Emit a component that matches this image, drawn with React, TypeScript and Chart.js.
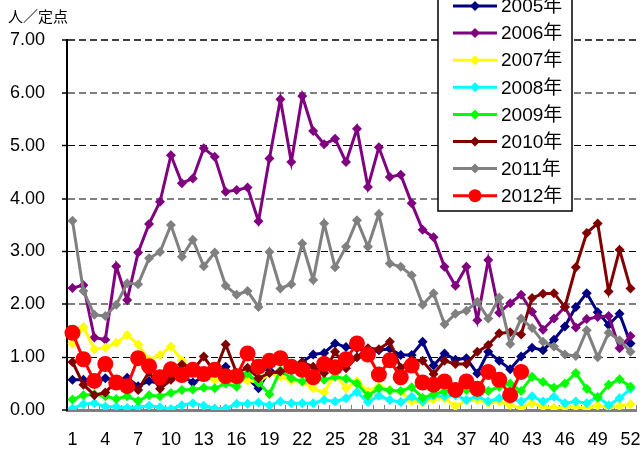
import React, { useEffect, useRef } from 'react';
import { Chart, registerables } from 'chart.js';

Chart.register(...registerables);

const weeks = ['1','2','3','4','5','6','7','8','9','10','11','12','13','14','15','16','17','18','19','20','21','22','23','24','25','26','27','28','29','30','31','32','33','34','35','36','37','38','39','40','41','42','43','44','45','46','47','48','49','50','51','52'];

const yTicks = [0, 1, 2, 3, 4, 5, 6, 7];
const unitLabel = '人／定点';

const s2005 = [0.57,0.57,0.50,0.60,0.55,0.61,0.45,0.55,0.50,0.60,0.65,0.52,0.62,0.70,0.82,0.55,0.60,0.41,0.75,0.68,0.80,0.91,1.05,1.08,1.26,1.19,1.17,1.08,1.13,1.16,1.04,1.04,1.29,0.84,1.07,0.95,0.98,0.69,1.10,0.93,0.77,1.01,1.18,1.13,1.33,1.58,1.95,2.21,1.85,1.61,1.82,1.26];
const s2006 = [2.31,2.36,1.37,1.33,2.72,2.08,2.98,3.52,3.94,4.82,4.29,4.38,4.95,4.79,4.13,4.16,4.21,3.57,4.76,5.88,4.69,5.94,5.28,5.03,5.13,4.69,5.32,4.22,4.97,4.41,4.45,3.91,3.41,3.27,2.71,2.35,2.71,1.70,2.84,1.84,2.02,2.18,1.86,1.52,1.73,1.95,1.56,1.72,1.76,1.78,1.17,1.40];
const s2007 = [1.26,1.57,1.15,1.18,1.27,1.42,1.24,0.95,1.04,1.20,0.94,0.75,0.62,0.57,0.53,0.55,0.56,0.52,0.69,0.63,0.56,0.54,0.41,0.33,0.69,0.41,0.55,0.35,0.45,0.38,0.35,0.17,0.14,0.20,0.22,0.07,0.18,0.19,0.13,0.16,0.09,0.04,0.13,0.06,0.04,0.05,0.06,0.03,0.08,0.05,0.07,0.11];
const s2008 = [0.03,0.11,0.13,0.06,0.06,0.04,0.05,0.08,0.05,0.02,0.09,0.13,0.08,0.03,0.03,0.12,0.12,0.14,0.09,0.16,0.13,0.13,0.13,0.19,0.16,0.22,0.34,0.15,0.27,0.19,0.15,0.25,0.16,0.27,0.26,0.28,0.19,0.26,0.16,0.22,0.22,0.16,0.26,0.16,0.25,0.13,0.16,0.13,0.25,0.09,0.22,0.40];
const s2009 = [0.20,0.28,0.30,0.26,0.21,0.26,0.17,0.28,0.26,0.32,0.38,0.39,0.42,0.41,0.50,0.44,0.69,0.52,0.30,0.75,0.60,0.54,0.60,0.57,0.63,0.59,0.50,0.27,0.41,0.37,0.36,0.43,0.23,0.30,0.35,0.40,0.38,0.32,0.36,0.44,0.50,0.36,0.63,0.53,0.42,0.50,0.70,0.40,0.23,0.48,0.58,0.44];
const s2010 = [0.91,0.48,0.28,0.33,0.55,0.45,0.38,0.72,0.40,0.57,0.86,0.75,1.01,0.71,1.24,0.70,0.80,0.60,0.70,0.73,0.78,0.90,0.82,0.70,1.10,0.79,1.00,1.17,1.15,1.29,0.80,0.95,0.93,0.68,0.93,0.87,0.87,1.10,1.23,1.45,1.47,1.43,2.12,2.20,2.21,1.95,2.70,3.35,3.53,2.24,3.03,2.30];
const s2011 = [3.58,2.25,1.80,1.78,1.99,2.40,2.38,2.87,2.99,3.50,2.90,3.22,2.72,2.98,2.35,2.18,2.25,1.95,2.99,2.30,2.38,3.15,2.46,3.53,2.70,3.09,3.59,3.09,3.71,2.77,2.71,2.55,1.99,2.21,1.62,1.82,1.88,2.05,1.73,2.13,1.25,1.73,1.55,1.29,1.20,1.05,1.02,1.51,1.00,1.46,1.32,1.10];
const s2012 = [1.46,0.96,0.55,0.87,0.52,0.45,0.98,0.83,0.62,0.77,0.66,0.76,0.68,0.76,0.64,0.64,1.07,0.82,0.93,0.98,0.82,0.76,0.62,0.87,0.81,0.96,1.26,1.05,0.67,0.94,0.62,0.84,0.52,0.48,0.54,0.38,0.54,0.40,0.72,0.57,0.28,0.72];

const seriesNames = ['2005年','2006年','2007年','2008年','2009年','2010年','2011年','2012年'];
const seriesData = [s2005, s2006, s2007, s2008, s2009, s2010, s2011, s2012];
const seriesColors = ['#000080','#800080','#FFFF00','#00FFFF','#00FF00','#800000','#808080','#FF0000'];

const FONT = '"Liberation Sans", "Noto Sans CJK JP", sans-serif';

const legendPlugin = {
  id: 'boxLegend',
  afterDraw(chart: any) {
    const ctx = chart.ctx;
    ctx.save();
    const L = 438, R = 572, T = -20, B = 211;
    ctx.fillStyle = '#ffffff';
    ctx.fillRect(L, T, R - L, B - T);
    ctx.strokeStyle = '#000000';
    ctx.lineWidth = 1.5;
    ctx.strokeRect(L, T, R - L, B - T);
    chart.data.datasets.forEach((ds: any, i: number) => {
      const y = 6 + i * 27.1;
      ctx.strokeStyle = ds.borderColor;
      ctx.lineWidth = 3;
      ctx.beginPath();
      ctx.moveTo(453, y);
      ctx.lineTo(497, y);
      ctx.stroke();
      ctx.fillStyle = ds.borderColor;
      ctx.beginPath();
      if (ds.pointStyle === 'circle') {
        ctx.arc(475, y, 6.5, 0, Math.PI * 2);
      } else {
        const r = 5;
        ctx.moveTo(475, y - r);
        ctx.lineTo(475 + r, y);
        ctx.lineTo(475, y + r);
        ctx.lineTo(475 - r, y);
        ctx.closePath();
      }
      ctx.fill();
      ctx.fillStyle = '#000000';
      ctx.font = '19px ' + FONT;
      ctx.textBaseline = 'middle';
      ctx.textAlign = 'left';
      ctx.fillText(ds.label, 501, y + 1);
    });
    ctx.restore();
  },
};

const unitPlugin = {
  id: 'unitLabel',
  afterDraw(chart: any) {
    const ctx = chart.ctx;
    ctx.save();
    ctx.fillStyle = '#000000';
    ctx.font = '15px "Noto Sans CJK JP", sans-serif';
    ctx.textBaseline = 'middle';
    ctx.textAlign = 'left';
    ctx.fillText(unitLabel, 8, 16);
    ctx.restore();
  },
};

export default function App() {
  const ref = useRef<HTMLCanvasElement>(null);
  useEffect(() => {
    if (!ref.current) return;
    const datasets = seriesNames.map((name, i) => {
      const isCircle = i === 7;
      return {
        label: name,
        data: seriesData[i],
        borderColor: seriesColors[i],
        backgroundColor: seriesColors[i],
        pointBackgroundColor: seriesColors[i],
        pointBorderColor: seriesColors[i],
        borderWidth: 3,
        pointStyle: isCircle ? 'circle' : 'rectRot',
        pointRadius: isCircle ? 8 : 5,
        pointBorderWidth: 0,
        tension: 0,
        order: 7 - i,
      };
    });
    const chart = new Chart(ref.current, {
      type: 'line',
      data: { labels: weeks, datasets },
      plugins: [legendPlugin, unitPlugin],
      options: {
        animation: false,
        responsive: false,
        layout: { padding: { top: 40, right: 3, left: 0, bottom: 0 } },
        plugins: { legend: { display: false }, tooltip: { enabled: false } },
        scales: {
          x: {
            type: 'category',
            offset: true,
            grid: {
              offset: true,
              drawOnChartArea: false,
              drawTicks: true,
              tickLength: -5,
              tickColor: '#808080',
              tickWidth: 1,
            },
            border: { display: true, color: '#808080', width: 3 },
            ticks: {
              autoSkip: false,
              maxRotation: 0,
              minRotation: 0,
              padding: 24,
              color: '#000000',
              font: { size: 18, family: FONT },
              callback: (v: any, idx: number) => (idx % 3 === 0 ? weeks[idx] : ''),
            },
            afterFit: (scale: any) => {
              scale.height = 40;
              scale.paddingLeft = 0;
              scale.paddingRight = 0;
            },
          },
          y: {
            min: 0,
            max: 7,
            afterBuildTicks: (scale: any) => {
              scale.ticks = yTicks.map((v) => ({ value: v }));
            },
            grid: {
              color: (c: any) => {
                const v = c.tick ? c.tick.value : 0;
                if (v === 0) return 'rgba(0,0,0,0)';
                if (v === 7) return '#404040';
                return v % 2 === 0 ? '#808080' : '#000000';
              },
              lineWidth: (c: any) => {
                const v = c.tick ? c.tick.value : 0;
                return v % 2 === 0 || v === 7 ? 2 : 1;
              },
              tickColor: '#000000',
              tickLength: 5,
              tickWidth: 1.5,
            },
            border: { display: true, color: '#000000', width: 2, dash: [7, 4] },
            ticks: {
              padding: 17,
              color: '#000000',
              font: { size: 18, family: FONT },
              callback: (v: any) => Number(v).toFixed(2),
            },
            afterFit: (scale: any) => {
              scale.width = 67;
              scale.paddingTop = 0;
              scale.paddingBottom = 0;
            },
          },
        },
      } as any,
    });
    return () => chart.destroy();
  }, []);
  return (
    <div style={{ position: 'fixed', left: 0, top: 0, width: 644, height: 450, background: '#fff' }}>
      <canvas ref={ref} width={644} height={450} />
    </div>
  );
}
